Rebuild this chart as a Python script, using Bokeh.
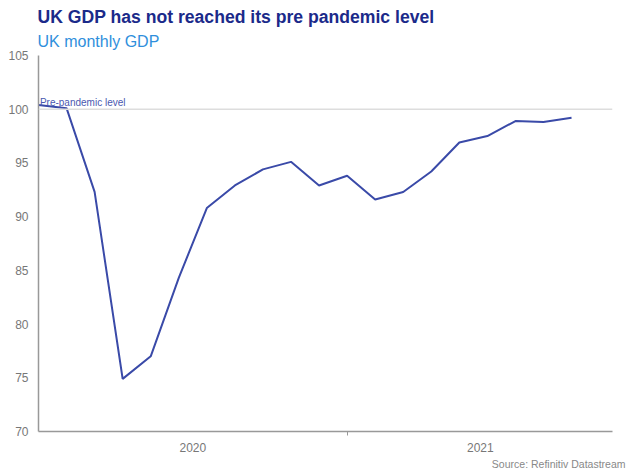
from bokeh.plotting import figure
from bokeh.models import Title, Span, Label, FixedTicker, Range1d
from bokeh.embed import file_html
from bokeh.resources import INLINE

months = ["Jan 2020", "Feb 2020", "Mar 2020", "Apr 2020", "May 2020", "Jun 2020",
          "Jul 2020", "Aug 2020", "Sep 2020", "Oct 2020", "Nov 2020", "Dec 2020",
          "Jan 2021", "Feb 2021", "Mar 2021", "Apr 2021", "May 2021", "Jun 2021",
          "Jul 2021", "Aug 2021"]
gdp = [100.4, 100.1, 92.3, 74.9, 77.0, 84.3, 90.8, 92.9, 94.4, 95.1,
       92.9, 93.8, 91.6, 92.3, 94.2, 96.9, 97.5, 98.9, 98.8, 99.2]
year_labels = ["2020", "2021"]
year_label_pos = [5.5, 15.75]
year_boundary = [11]
y_ticks = [70, 75, 80, 85, 90, 95, 100, 105]
pre_pandemic_level = 100

x = list(range(len(months)))

FONT = "Liberation Sans"

p = figure(width=635, height=470, output_backend="svg", toolbar_location=None,
           title=None,
           x_range=Range1d(0, 20.46), y_range=Range1d(70, 105),
           min_border_left=38, min_border_right=23, min_border_top=10, min_border_bottom=5)
p.outline_line_color = None
p.xgrid.grid_line_color = None
p.ygrid.grid_line_color = None
p.background_fill_color = "white"
p.border_fill_color = "white"

p.add_layout(Title(text="UK monthly GDP", text_font=FONT, text_font_size="16px",
                   text_font_style="normal", text_color="#2f8fdc", align="left",
                   offset=-1, standoff=12), "above")
p.add_layout(Title(text="UK GDP has not reached its pre pandemic level", text_font=FONT,
                   text_font_size="17.6px", text_font_style="bold", text_color="#1b2a8a",
                   align="left", offset=-1, standoff=-5), "above")
p.add_layout(Title(text=" ", text_font=FONT, text_font_size="4px", standoff=0), "above")
p.add_layout(Title(text="Source: Refinitiv Datastream", text_font=FONT, text_font_size="10.5px",
                   text_font_style="normal", text_color="#888888", align="right",
                   offset=-13, standoff=2), "below")

span = Span(location=pre_pandemic_level, dimension="width", line_color="#dddddd", line_width=1.5)
p.add_layout(span)

p.line(x, gdp, line_color="#3a4aa8", line_width=2)

p.add_layout(Label(x=0.05, y=pre_pandemic_level, text="Pre-pandemic level", text_font=FONT,
                   text_font_size="10px", text_color="#4a58b0", text_baseline="bottom",
                   y_offset=1))

xa = p.xaxis[0]
xa.ticker = FixedTicker(ticks=year_label_pos, minor_ticks=year_boundary)
xa.major_label_overrides = {year_label_pos[0]: year_labels[0], year_label_pos[1]: year_labels[1]}
xa.major_tick_line_color = None
xa.minor_tick_line_color = "#999999"
xa.minor_tick_in = 0
xa.minor_tick_out = 4
xa.axis_line_color = "#999999"
xa.axis_line_width = 1.5
xa.major_label_text_font = FONT
xa.major_label_text_font_size = "12px"
xa.major_label_text_color = "#777777"
xa.major_label_standoff = 5

ya = p.yaxis[0]
ya.ticker = FixedTicker(ticks=y_ticks)
ya.major_tick_line_color = None
ya.minor_tick_line_color = None
ya.axis_line_color = "#999999"
ya.axis_line_width = 1.5
ya.major_label_text_font = FONT
ya.major_label_text_font_size = "12px"
ya.major_label_text_color = "#777777"
ya.major_label_standoff = 4

open("out.html", "w").write(file_html(p, INLINE))
